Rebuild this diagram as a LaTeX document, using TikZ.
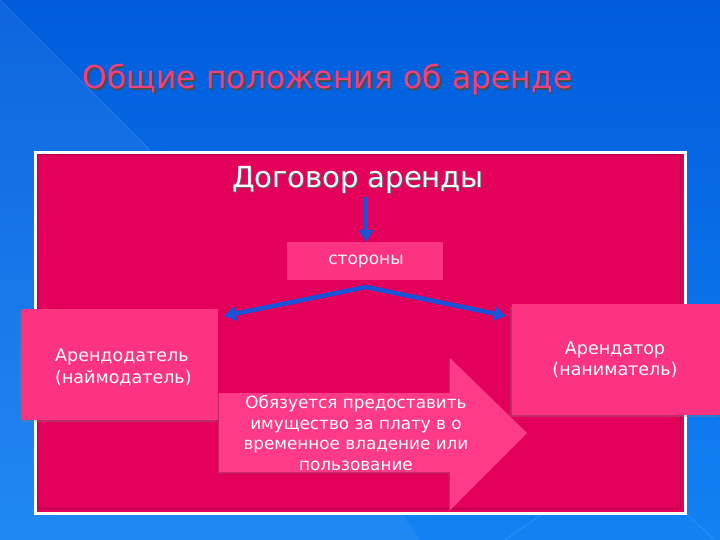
\documentclass[tikz,border=0pt]{standalone}
\usepackage{fontspec}
\setmainfont{DejaVu Sans}
\usetikzlibrary{arrows.meta,shadows}
\definecolor{bgtop}{HTML}{005CDC}
\definecolor{bgbot}{HTML}{1282F2}
\definecolor{panel}{HTML}{E2005A}
\definecolor{boxpink}{HTML}{FB3380}
\definecolor{arrpink}{HTML}{FF3A86}
\definecolor{titlepink}{HTML}{F2407C}
\definecolor{arrblue}{HTML}{1A52D8}
\tikzset{
  pbox/.style={fill=boxpink, draw=none, drop shadow={shadow xshift=-2pt, shadow yshift=-2pt, opacity=0.35}},
  wtext/.style={text=white, font=\fontsize{17}{21}\selectfont, align=center, inner sep=0pt},
  barrow/.style={draw=arrblue, line width=4.5pt, -{Triangle[length=12pt,width=14pt]}}
}
\begin{document}
\begin{tikzpicture}[x=1pt,y=-1pt]
\useasboundingbox (0,0) rectangle (720,540);
% background
\shade[top color=bgtop, bottom color=bgbot] (0,0) rectangle (720,540);
\fill[white, opacity=0.06] (0,0) -- (150,150) -- (420,540) -- (0,540) -- cycle;
\draw[white, opacity=0.15, line width=0.6pt] (0,0) -- (150,150);
\draw[white, opacity=0.15, line width=0.6pt] (505,540) -- (545,512);
\draw[white, opacity=0.15, line width=0.6pt] (684,512) -- (715,540);
% panel
\node[draw=white, line width=3pt, fill=panel, minimum width=650pt, minimum height=360pt, inner sep=0pt, anchor=north west] (panel) at (33.5,151.5) {};
\draw[black!40!panel, opacity=0.5, line width=1pt] (37,155) rectangle (680,508);
% title
\node[text=black!70, font=\fontsize{31.5}{36}\selectfont, inner sep=0pt] (titlesh) at (329,81.5) {Общие положения об аренде};
\node[text=titlepink, font=\fontsize{31.5}{36}\selectfont, inner sep=0pt] (title) at (327.5,80) {Общие положения об аренде};
% contract
\node[text=black!60, font=\fontsize{29}{33}\selectfont, inner sep=0pt] (dogsh) at (359,181) {Договор аренды};
\node[text=white, font=\fontsize{29}{33}\selectfont, inner sep=0pt] (dog) at (358,180) {Договор аренды};
% sides box
\node[fill=boxpink, minimum width=156pt, minimum height=38pt, inner sep=0pt, anchor=north west] (sides) at (287,242) {};
\node[text=white!85!pink, font=\fontsize{17}{20}\selectfont, inner sep=0pt] (sidest) at (366,262) {стороны};
\coordinate (downstart) at (366,197);
\draw[barrow, line width=3.5pt] (downstart) -- (sides.north -| downstart);
\coordinate (fork) at (366,287);
\coordinate (lend) at (224,316);
\coordinate (rend) at (506,316);
\draw[barrow] (fork) -- (lend);
\draw[barrow] (fork) -- (rend);
% big arrow
\fill[arrpink, drop shadow={shadow xshift=-1.5pt, shadow yshift=-1.5pt, opacity=0.3}] (219,393) -- (450,393) -- (450,358) -- (527,433) -- (450,510) -- (450,472) -- (219,472) -- cycle;
\node[wtext, font=\fontsize{16.8}{20.7}\selectfont] (duty) at (356,433) {Обязуется предоставить\\имущество за плату в о\\временное владение или\\пользование};
% left box
\node[pbox, minimum width=196pt, minimum height=111pt, inner sep=0pt, anchor=north west] (lessor) at (22,309) {};
\node[wtext, align=left, anchor=west, font=\fontsize{17.5}{22}\selectfont] (lessort) at (55,367) {Арендодатель\\(наймодатель)};
% right box
\node[pbox, minimum width=208pt, minimum height=111pt, inner sep=0pt, anchor=north west] (lessee) at (512,304) {};
\node[wtext, font=\fontsize{17.5}{21.5}\selectfont] (lesseet) at (615,360) {Арендатор\\(наниматель)};
\end{tikzpicture}
\end{document}
